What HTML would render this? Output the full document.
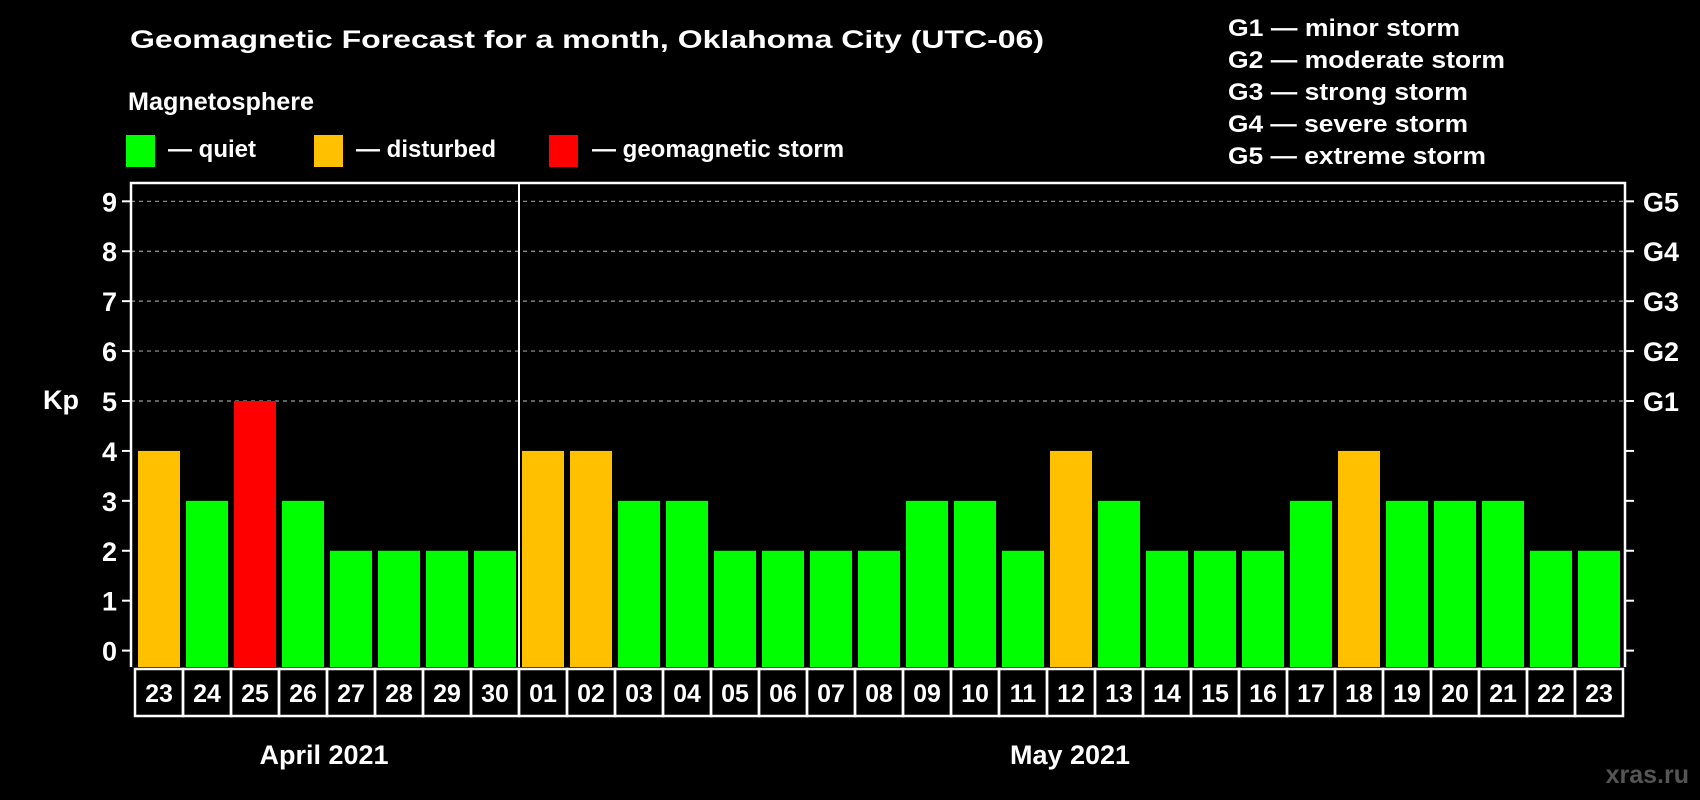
<!DOCTYPE html>
<html><head><meta charset="utf-8"><style>
html,body{margin:0;padding:0;background:#000;}
svg{display:block;font-family:"Liberation Sans",sans-serif;font-weight:bold;}
</style></head><body>
<svg id="chart" width="1700" height="800" viewBox="0 0 1700 800">
<rect x="0" y="0" width="1700" height="800" fill="#000"/>
<text x="130" y="48" font-size="25" fill="#fff" textLength="914" lengthAdjust="spacingAndGlyphs">Geomagnetic Forecast for a month, Oklahoma City (UTC-06)</text>
<text x="128" y="110" font-size="25" fill="#fff" textLength="186" lengthAdjust="spacingAndGlyphs">Magnetosphere</text>
<g><rect x="126" y="135" width="29" height="32" fill="#00ff00"/><text x="168" y="157" font-size="24" fill="#fff">— quiet</text></g>
<g><rect x="314" y="135" width="29" height="32" fill="#ffc000"/><text x="356" y="157" font-size="24" fill="#fff">— disturbed</text></g>
<g><rect x="549" y="135" width="29" height="32" fill="#ff0000"/><text x="592" y="157" font-size="24" fill="#fff">— geomagnetic storm</text></g>
<g font-size="24" fill="#fff">
<text x="1228" y="36" textLength="232" lengthAdjust="spacingAndGlyphs">G1 — minor storm</text>
<text x="1228" y="68" textLength="277" lengthAdjust="spacingAndGlyphs">G2 — moderate storm</text>
<text x="1228" y="100" textLength="240" lengthAdjust="spacingAndGlyphs">G3 — strong storm</text>
<text x="1228" y="132" textLength="240" lengthAdjust="spacingAndGlyphs">G4 — severe storm</text>
<text x="1228" y="164" textLength="258" lengthAdjust="spacingAndGlyphs">G5 — extreme storm</text>
</g>
<g id="grid"></g>
<g id="bars"></g>
<g id="axes"></g>
<text x="43" y="409" font-size="27" fill="#fff">Kp</text>
<text x="324" y="764" font-size="27" fill="#fff" text-anchor="middle">April 2021</text>
<text x="1070" y="764" font-size="27" fill="#fff" text-anchor="middle">May 2021</text>
<text x="1689" y="783" font-size="25" fill="#555" text-anchor="end">xras.ru</text>
</svg>
<script>
const days = ["23","24","25","26","27","28","29","30","01","02","03","04","05","06","07","08","09","10","11","12","13","14","15","16","17","18","19","20","21","22","23"];
const kpValues = [4,3,5,3,2,2,2,2,4,4,3,3,2,2,2,2,3,3,2,4,3,2,2,2,3,4,3,3,3,2,2];
const yTicks = [0,1,2,3,4,5,6,7,8,9];
const gLabels = ["G1","G2","G3","G4","G5"];
const separatorIndex = 8;

const NS = "http://www.w3.org/2000/svg";
const plotL = 131, plotR = 1625, plotT = 183, plotB = 667;
const y0 = 650.6, unit = 49.92;
const cellX0 = 135, cellW = 48, barW = 42;
function yScale(v){ return y0 - v*unit; }
function xCell(i){ return cellX0 + i*cellW; }
function mk(tag, attrs, parent){ const e=document.createElementNS(NS,tag); for(const k in attrs) e.setAttribute(k,attrs[k]); parent.appendChild(e); return e; }
function color(v){ return v>=5 ? "#ff0000" : (v>=4 ? "#ffc000" : "#00ff00"); }

const grid = document.getElementById("grid"), bars = document.getElementById("bars"), axes = document.getElementById("axes");
yTicks.forEach(t => {
  if (t >= 5) {
    const l = mk("line",{x1:plotL,x2:plotR,y1:yScale(t),y2:yScale(t),stroke:"#999","stroke-width":1.2,"stroke-dasharray":"4,4"},grid);
    
    
  }
  const tl = mk("line",{x1:plotL-9,x2:plotL,y1:yScale(t),y2:yScale(t),stroke:"#fff","stroke-width":2},axes);
  
  
  const tr = mk("line",{x1:plotR,x2:plotR+9,y1:yScale(t),y2:yScale(t),stroke:"#fff","stroke-width":2},axes);
  
  
  const lab = mk("text",{x:117,y:yScale(t)+10,"font-size":27,fill:"#fff","text-anchor":"end"},axes);
  lab.textContent = t;
  
  
});
gLabels.forEach((g,i) => {
  const lab = mk("text",{x:1643,y:yScale(5+i)+10,"font-size":27,fill:"#fff"},axes);
  lab.textContent = g;
  
  
});
kpValues.forEach((v,i) => {
  const r = mk("rect",{x:xCell(i)+3,y:yScale(v),width:barW,height:plotB-yScale(v),fill:color(v)},bars);
  
  
});
const frame = mk("path",{d:`M${plotL},${plotB} V${plotT} H${plotR} V${plotB}`,stroke:"#fff","stroke-width":2.5,fill:"none"},axes);


const sx = xCell(separatorIndex);
const sep = mk("line",{x1:sx,x2:sx,y1:plotT,y2:plotB,stroke:"#fff","stroke-width":2},axes);


days.forEach((d,i) => {
  const c = mk("rect",{x:xCell(i),y:669,width:cellW,height:47,fill:"none",stroke:"#fff","stroke-width":2.5},axes);
  
  
  const t = mk("text",{x:xCell(i)+cellW/2,y:702,"font-size":25,fill:"#fff","text-anchor":"middle"},axes);
  t.textContent = d;
  
  
});
</script>
</body></html>
